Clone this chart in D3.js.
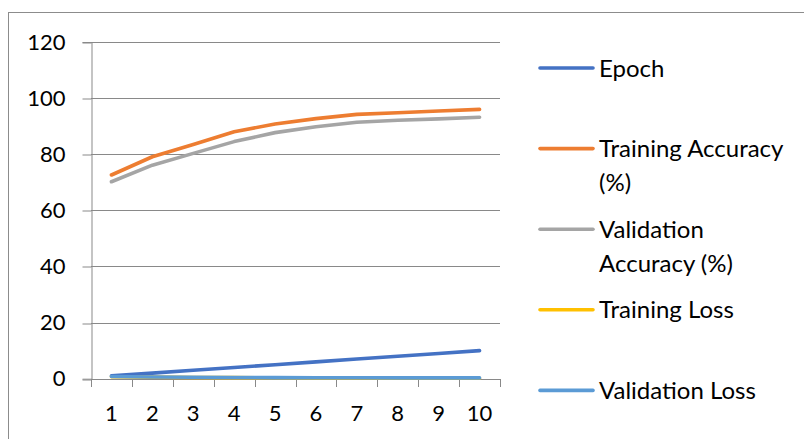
<!DOCTYPE html>
<html>
<head>
<meta charset="utf-8">
<script src="https://cdn.jsdelivr.net/npm/d3@7"></script>
<style>
  html, body { margin: 0; padding: 0; background: #fff; }
  svg { display: block; font-family: Lato, "Open Sans", sans-serif; }
</style>
</head>
<body>
<svg id="chart" width="804" height="439"></svg>
<script>
// Training history per epoch
const epochs = [1, 2, 3, 4, 5, 6, 7, 8, 9, 10];
const epochValues = [1, 2, 3, 4, 5, 6, 7, 8, 9, 10];
const trainingAccuracy = [72.6, 79.1, 83.5, 88.0, 90.8, 92.7, 94.2, 94.8, 95.4, 96.0];
const validationAccuracy = [70.2, 76.1, 80.3, 84.5, 87.7, 89.8, 91.4, 92.1, 92.6, 93.2];
const trainingLoss = [0.72, 0.55, 0.45, 0.38, 0.32, 0.27, 0.23, 0.20, 0.17, 0.15];
const validationLoss = [0.78, 0.62, 0.52, 0.45, 0.40, 0.36, 0.33, 0.31, 0.30, 0.29];
const yTicks = [0, 20, 40, 60, 80, 100, 120];

const seriesNames = ["Epoch", "Training Accuracy (%)", "Validation Accuracy (%)", "Training Loss", "Validation Loss"];
const seriesValues = [epochValues, trainingAccuracy, validationAccuracy, trainingLoss, validationLoss];
const seriesColors = ["#4472C4", "#ED7D31", "#A5A5A5", "#FFC000", "#5B9BD5"];
// legend labels wrapped onto lines
const legendLines = [["Epoch"], ["Training Accuracy", "(%)"], ["Validation", "Accuracy (%)"], ["Training Loss"], ["Validation Loss"]];

const svg = d3.select("#chart");
const axisFont = 22;
const legendFont = 24;
const axisColor = "#898989";

// outer chart frame
svg.append("rect")
  .attr("x", 8.5).attr("y", 12.5)
  .attr("width", 820).attr("height", 440)
  .attr("fill", "none").attr("stroke", "#8c8c8c").attr("stroke-width", 1);

const plot = { left: 91, right: 500, top: 42, bottom: 378.7 };

const x = d3.scaleBand().domain(epochs).range([plot.left, plot.right]);
const y = d3.scaleLinear().domain([0, 120]).range([plot.bottom, plot.top]);

// horizontal gridlines
svg.append("g").selectAll("line").data(yTicks.filter(d => d > 0)).join("line")
  .attr("x1", plot.left).attr("x2", plot.right)
  .attr("y1", d => Math.round(y(d)) + 0.5).attr("y2", d => Math.round(y(d)) + 0.5)
  .attr("stroke", axisColor).attr("stroke-width", 1);

// y axis
const yAxis = svg.append("g")
  .attr("transform", `translate(${plot.left + 0.5},0)`)
  .call(d3.axisLeft(y).tickValues(yTicks).tickSize(9).tickPadding(17).tickFormat(d3.format("d")));
yAxis.select(".domain").attr("stroke", axisColor);
yAxis.selectAll(".tick line").attr("stroke", axisColor)
  .attr("transform", d => `translate(0,${Math.round(y(d)) + 0.5 - y(d)})`);
yAxis.selectAll("text").attr("font-size", axisFont).attr("font-family", "Lato").attr("fill", "#000");

// x axis with tick marks between categories
const xb = svg.append("g");
xb.append("line")
  .attr("x1", plot.left).attr("x2", plot.right)
  .attr("y1", Math.round(plot.bottom) + 0.5).attr("y2", Math.round(plot.bottom) + 0.5)
  .attr("stroke", axisColor);
const boundaries = epochs.map(d => x(d)).concat([plot.right]);
xb.selectAll("line.tick").data(boundaries).join("line").attr("class", "tick")
  .attr("x1", d => Math.round(d) + 0.5).attr("x2", d => Math.round(d) + 0.5)
  .attr("y1", Math.round(plot.bottom)).attr("y2", Math.round(plot.bottom) + 8)
  .attr("stroke", axisColor);
xb.selectAll("text").data(epochs).join("text")
  .attr("x", d => x(d) + x.bandwidth() / 2)
  .attr("y", 413 + axisFont * 0.36)
  .attr("text-anchor", "middle")
  .attr("font-size", axisFont).attr("fill", "#000")
  .text(d => d);

// series lines
const line = d3.line()
  .x((d, i) => x(epochs[i]) + x.bandwidth() / 2)
  .y(d => y(d));

svg.append("g").selectAll("path").data(seriesValues).join("path")
  .attr("d", d => line(d))
  .attr("fill", "none")
  .attr("stroke", (d, i) => seriesColors[i])
  .attr("stroke-width", 3.6)
  .attr("stroke-linecap", "round")
  .attr("stroke-linejoin", "round");

// legend
const legend = svg.append("g");
const item = legend.selectAll("g").data(seriesNames).join("g")
  .attr("transform", (d, i) => `translate(0,${68 + i * 80.6})`);
item.append("line")
  .attr("x1", 540).attr("x2", 593).attr("y1", 0).attr("y2", 0)
  .attr("stroke", (d, i) => seriesColors[i])
  .attr("stroke-width", 3.6).attr("stroke-linecap", "round");
item.each(function (d, i) {
  const t = d3.select(this).append("text")
    .attr("x", 599).attr("y", legendFont * 0.36)
    .attr("font-size", legendFont).attr("fill", "#000");
  legendLines[i].forEach((s, k) => {
    t.append("tspan").attr("x", 599).attr("dy", k === 0 ? 0 : 34).text(s);
  });
});
</script>
</body>
</html>
